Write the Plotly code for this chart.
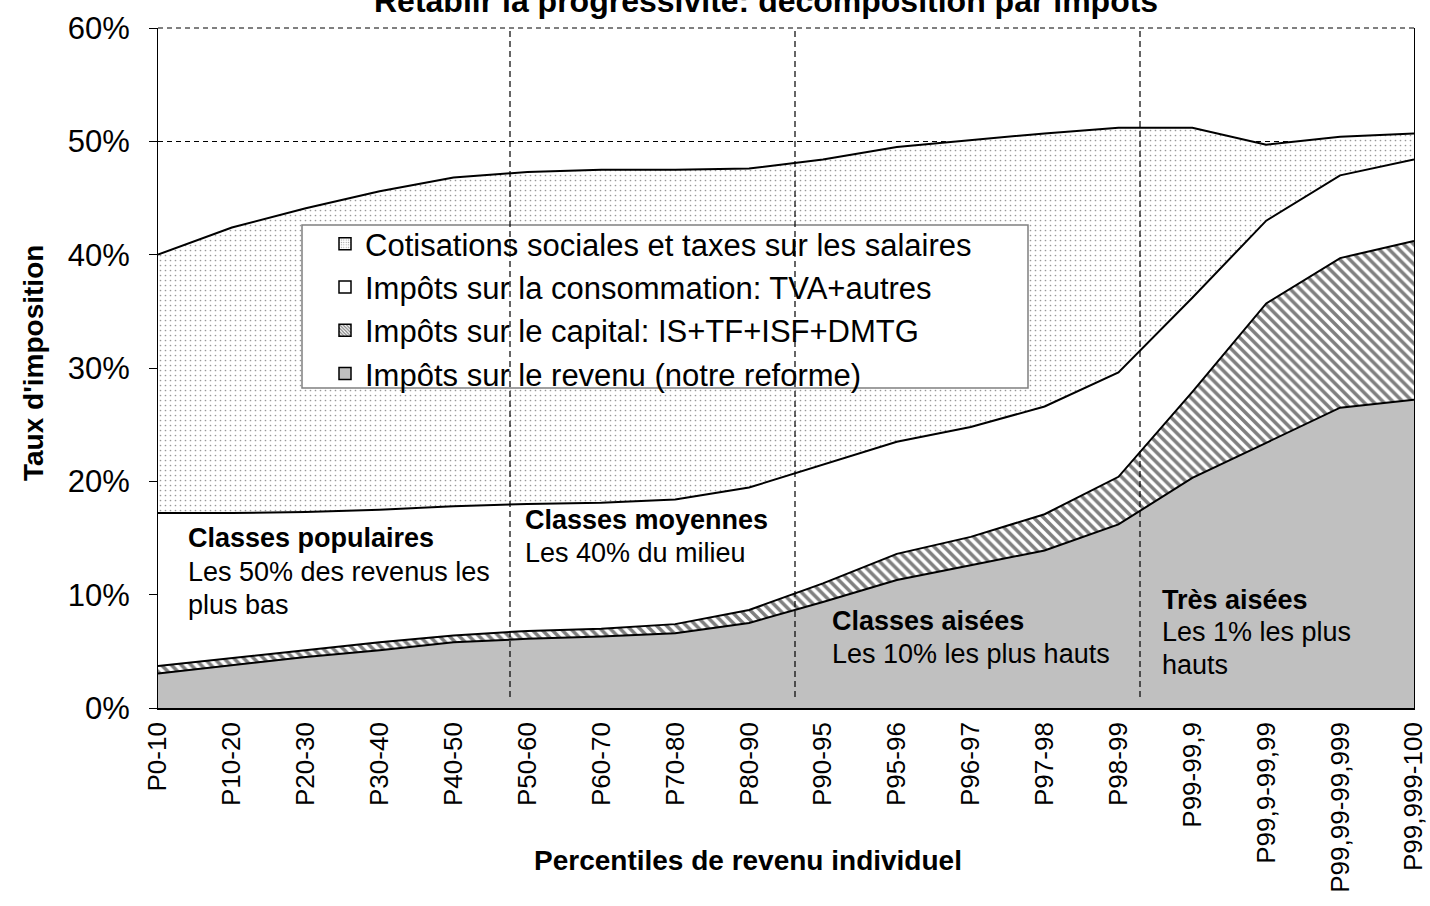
import plotly.graph_objects as go

# ---------------- data (percent) ----------------
categories = ["P0-10", "P10-20", "P20-30", "P30-40", "P40-50", "P50-60", "P60-70",
              "P70-80", "P80-90", "P90-95", "P95-96", "P96-97", "P97-98", "P98-99",
              "P99-99,9", "P99,9-99,99", "P99,99-99,999", "P99,999-100"]

impot_revenu = [3.05, 3.8, 4.5, 5.1, 5.8, 6.1, 6.3, 6.6, 7.5, 9.35, 11.3, 12.6, 13.9, 16.2,
                20.3, 23.4, 26.5, 27.2]
impot_capital = [0.65, 0.6, 0.6, 0.7, 0.6, 0.7, 0.7, 0.8, 1.15, 1.65, 2.3, 2.5, 3.2, 4.2,
                 7.6, 12.3, 13.2, 14.0]
impot_consommation = [13.5, 12.8, 12.2, 11.7, 11.4, 11.2, 11.1, 11.0, 10.8, 10.5, 9.9, 9.7,
                      9.5, 9.2, 8.3, 7.3, 7.3, 7.2]
cotisations = [22.8, 25.2, 26.8, 28.1, 29.0, 29.3, 29.4, 29.1, 28.15, 26.9, 26.0, 25.3, 24.1,
               21.6, 15.0, 6.7, 3.4, 2.3]

y_ticks = [0, 10, 20, 30, 40, 50, 60]
y_tick_labels = ["0%", "10%", "20%", "30%", "40%", "50%", "60%"]

series_names = ["Impôts sur le revenu (notre reforme)",
                "Impôts sur le capital: IS+TF+ISF+DMTG",
                "Impôts sur la consommation: TVA+autres",
                "Cotisations sociales et taxes sur les salaires"]

title_text = "Rétablir la progressivité: décomposition par impôts"

FONT = "Liberation Sans, Arial, sans-serif"

# ---------------- layout helpers (pixel -> paper) ----------------
L, R, T, B = 158, 1414, 28, 708
def xp(px):
    return (px - L) / (R - L)
def yp(py):
    return (B - py) / (B - T)

fig = go.Figure()

line_style = dict(color="black", width=2)

# stacked areas
fig.add_trace(go.Scatter(x=categories, y=impot_revenu, stackgroup="s", mode="lines",
                         line=line_style, fillcolor="#C0C0C0", showlegend=False,
                         name=series_names[0]))
fig.add_trace(go.Scatter(x=categories, y=impot_capital, stackgroup="s", mode="lines",
                         line=line_style, fillcolor="white",
                         fillpattern=dict(shape="\\", fgcolor="black", bgcolor="white",
                                          size=7, solidity=0.5),
                         showlegend=False, name=series_names[1]))
fig.add_trace(go.Scatter(x=categories, y=impot_consommation, stackgroup="s", mode="lines",
                         line=line_style, fillcolor="white", showlegend=False,
                         name=series_names[2]))
fig.add_trace(go.Scatter(x=categories, y=cotisations, stackgroup="s", mode="lines",
                         line=line_style, fillcolor="white",
                         fillpattern=dict(shape=".", fgcolor="#333333", bgcolor="white",
                                          size=5, solidity=0.09),
                         showlegend=False, name=series_names[3]))

# legend-only entries (square swatches)
legend_specs = [
    (series_names[3], dict(color="white", pattern=dict(shape=".", fgcolor="#333333",
                                                         bgcolor="white", size=3, solidity=0.2))),
    (series_names[2], dict(color="white")),
    (series_names[1], dict(color="white", pattern=dict(shape="\\", fgcolor="black",
                                                         bgcolor="white", size=3, solidity=0.5))),
    (series_names[0], dict(color="#C0C0C0")),
]
for nm, mk in legend_specs:
    mk = dict(mk)
    mk["line"] = dict(color="black", width=1.5)
    fig.add_trace(go.Bar(x=[None], y=[None], name=nm, marker=mk, showlegend=True,
                         legendgroup=nm))

shapes = []
# top dashed gridline (60%)
shapes.append(dict(type="line", xref="paper", yref="paper", x0=0, x1=1, y0=1, y1=1,
                   line=dict(color="black", width=1, dash="5px,4px"), layer="below"))
# legend box
shapes.append(dict(type="rect", xref="paper", yref="paper",
                   x0=xp(302), x1=xp(1028), y0=yp(388), y1=yp(225),
                   fillcolor="white", line=dict(color="#808080", width=1.5), layer="above"))
# vertical dashed separators
for px in [510, 795, 1140]:
    shapes.append(dict(type="line", xref="paper", yref="paper",
                       x0=xp(px), x1=xp(px), y0=yp(697), y1=1,
                       line=dict(color="black", width=1.2, dash="6px,4px"), layer="above"))

annotations = []
def txt(s, px, py, size=27, **kw):
    annotations.append(dict(text=s, xref="paper", yref="paper", x=xp(px), y=yp(py),
                            xanchor=kw.get("xanchor", "left"), yanchor=kw.get("yanchor", "middle"),
                            showarrow=False, textangle=kw.get("textangle", 0),
                            font=dict(family=FONT, size=size, color="black")))

txt("<b>Classes populaires</b>", 186, 538)
txt("Les 50% des revenus les", 186, 572)
txt("plus bas", 186, 605)
txt("<b>Classes moyennes</b>", 523, 520)
txt("Les 40% du milieu", 523, 553)
txt("<b>Classes aisées</b>", 830, 621)
txt("Les 10% les plus hauts", 830, 654)
txt("<b>Très aisées</b>", 1160, 600)
txt("Les 1% les plus", 1160, 632)
txt("hauts", 1160, 665)

# axis titles
txt("<b>Percentiles de revenu individuel</b>", 748, 860, size=28, xanchor="center")
txt("<b>Taux d'imposition</b>", 33, 363, size=28, xanchor="center", textangle=-90)
# chart title (partly cut at top, as in the original)
txt("<b>" + title_text + "</b>", 766, 21, size=32, xanchor="center", yanchor="bottom")

fig.update_layout(
    width=1430, height=906,
    margin=dict(l=L, r=1430 - R, t=T, b=906 - B, autoexpand=False),
    paper_bgcolor="white", plot_bgcolor="white",
    font=dict(family=FONT, color="black"),
    shapes=shapes, annotations=annotations,
    showlegend=True,
    legend=dict(x=xp(302), y=yp(217), xanchor="left", yanchor="top",
                bgcolor="rgba(0,0,0,0)", borderwidth=0, traceorder="normal",
                font=dict(family=FONT, size=31, color="black"),
                indentation=23, tracegroupgap=0),
    xaxis=dict(type="category", categoryorder="array", categoryarray=categories,
               range=[0, len(categories) - 1], showgrid=False, zeroline=False,
               showline=True, linecolor="black", linewidth=1.5,
               ticks="", tickangle=-90, ticklabelstandoff=2,
               tickfont=dict(family=FONT, size=26, color="black")),
    yaxis=dict(range=[0, 60], tickmode="array", tickvals=y_ticks, ticktext=y_tick_labels,
               showgrid=True, gridcolor="black", gridwidth=1, griddash="5px,4px",
               zeroline=False, showline=True, linecolor="black", linewidth=1, mirror=True,
               ticks="outside", ticklen=8, tickcolor="black", ticklabelstandoff=13,
               tickfont=dict(family=FONT, size=31, color="black")),
)

fig.write_html("out.html", config={"displayModeBar": False},
               post_script="document.body.style.margin='0px';")
